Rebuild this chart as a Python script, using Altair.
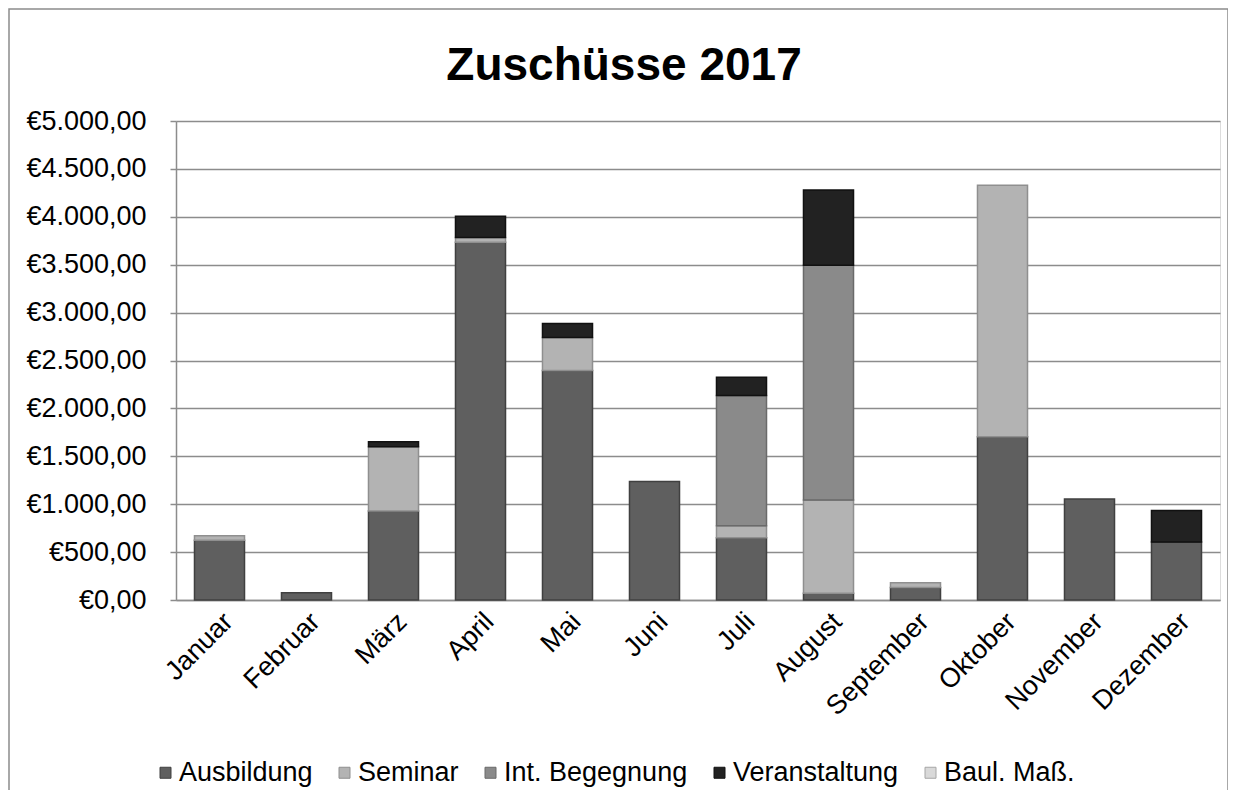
import altair as alt
import pandas as pd

months = ["Januar", "Februar", "März", "April", "Mai", "Juni", "Juli",
          "August", "September", "Oktober", "November", "Dezember"]
series = ["Ausbildung", "Seminar", "Int. Begegnung", "Veranstaltung", "Baul. Maß."]

ausbildung = [625, 75, 930, 3735, 2395, 1237, 650, 70, 130, 1705, 1055, 605]
seminar = [45, 0, 670, 50, 345, 0, 125, 975, 50, 2625, 0, 0]
int_begegnung = [0, 0, 0, 0, 0, 0, 1360, 2450, 0, 0, 0, 0]
veranstaltung = [0, 0, 53, 220, 146, 0, 190, 785, 0, 0, 0, 330]
baul_mass = [0, 0, 0, 0, 0, 0, 0, 0, 0, 0, 0, 0]

y_ticks = [0, 500, 1000, 1500, 2000, 2500, 3000, 3500, 4000, 4500, 5000]

fills = ["#5f5f5f", "#b3b3b3", "#8a8a8a", "#222222", "#d9d9d9"]
strokes = ["#404040", "#8f8f8f", "#6a6a6a", "#111111", "#a6a6a6"]

rows = []
for i, (name, vals) in enumerate(zip(series, [ausbildung, seminar, int_begegnung, veranstaltung, baul_mass])):
    for m, v in zip(months, vals):
        if v > 0:
            rows.append({"Monat": m, "Kategorie": name, "Betrag": v, "idx": i})
df = pd.DataFrame(rows)

FONT = "Liberation Sans"
FS = 27

label_expr = ("'€' + replace(replace(replace(format(datum.value, ',.2f'), ',', '_'), '.', ','), '_', '.')")

bars = alt.Chart(df).mark_bar(strokeWidth=1.5).encode(
    x=alt.X("Monat:N", sort=months,
            scale=alt.Scale(paddingInner=0.425, paddingOuter=0.2125),
            axis=alt.Axis(title=None, labelAngle=-45, labelFontSize=FS, labelFont=FONT,
                          labelColor="#000000", ticks=False, domainColor="#8c8c8c",
                          domainWidth=1.5, labelPadding=8)),
    y=alt.Y("sum(Betrag):Q", stack="zero",
            scale=alt.Scale(domain=[0, 5000], nice=False),
            axis=alt.Axis(title=None, values=y_ticks, labelExpr=label_expr,
                          labelFontSize=FS, labelFont=FONT, labelColor="#000000",
                          gridColor="#8c8c8c", gridWidth=1.5, domainColor="#8c8c8c",
                          domainWidth=1.5, tickColor="#8c8c8c", tickSize=6,
                          tickWidth=1.5, labelPadding=24)),
    color=alt.Color("Kategorie:N",
                    scale=alt.Scale(domain=series, range=fills),
                    legend=alt.Legend(title=None, orient="none", direction="horizontal",
                                      legendX=-24, legendY=638, labelFontSize=FS,
                                      labelFont=FONT, labelColor="#000000", labelLimit=400,
                                      symbolType="square", symbolSize=121,
                                      symbolStrokeColor="#808080", symbolStrokeWidth=1,
                                      labelOffset=0, columnPadding=18, columns=5)),
    stroke=alt.Stroke("Kategorie:N", scale=alt.Scale(domain=series, range=strokes), legend=None),
    order=alt.Order("idx:Q", sort="ascending"),
)

frame = alt.Chart(pd.DataFrame({"a": [0]})).mark_rect(
    filled=False, stroke="#8c8c8c", strokeWidth=1.5, clip=False
).encode(x=alt.value(-167), x2=alt.value(1052), y=alt.value(-112), y2=alt.value(720))

chart = alt.layer(bars, frame).properties(
    width=1044, height=479,
    title=alt.TitleParams("Zuschüsse 2017", fontSize=46, font=FONT, fontWeight="bold",
                          color="#000000", anchor="middle", dx=-74, offset=-118,
                          baseline="alphabetic"),
    autosize=alt.AutoSizeParams(type="none"),
    padding={"left": 168, "top": 113, "right": 8, "bottom": 190},
).configure_view(stroke=None).configure(background="#ffffff")

chart.save("out.html", embed_options={"renderer": "svg", "actions": False})
